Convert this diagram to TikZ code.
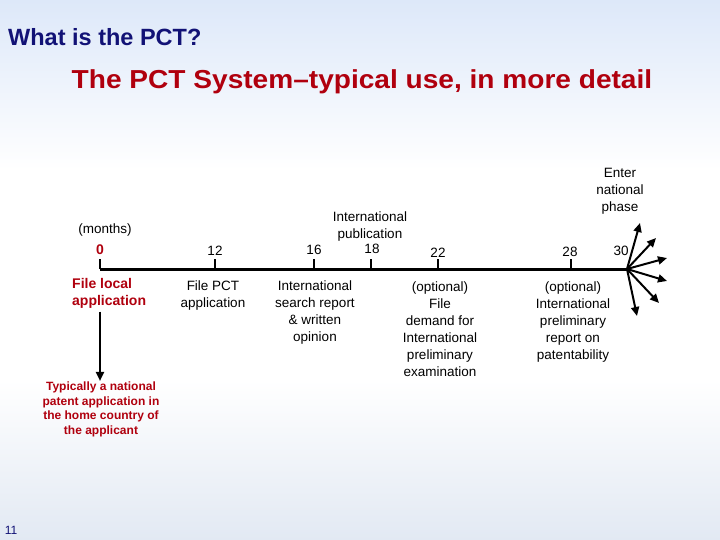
\documentclass[tikz,border=0pt]{standalone}
\usepackage{fontspec}
\setmainfont{Liberation Sans}
\usetikzlibrary{arrows.meta}
\definecolor{navytitle}{RGB}{18,18,118}
\definecolor{darkred}{RGB}{176,0,14}
\definecolor{skyblue}{RGB}{221,232,249}
\definecolor{mistblue}{RGB}{226,233,243}

\begin{document}
\begin{tikzpicture}[x=1pt, y=-1pt,
    lbl/.style={align=center, inner sep=0pt,
                font=\fontsize{13.5}{17}\selectfont},
    num/.style={inner sep=0pt, font=\fontsize{13.5}{17}\selectfont},
    redlbl/.style={inner sep=0pt, text=darkred,
                   font=\fontsize{14}{17}\selectfont\bfseries},
    ticker/.style={line width=2pt},
    axis/.style={line width=3pt},
    arw/.style={-{Triangle[length=9pt, width=8pt]}, line width=2pt},
]
% --- Background ---
\useasboundingbox (0,0) rectangle (720,540);
\fill[top color=skyblue, bottom color=white] (0,0) rectangle (720,170);
\fill[white] (0,170) rectangle (720,380);
\fill[top color=white, bottom color=mistblue] (0,380) rectangle (720,540);

% --- Titles ---
\node[anchor=base west, inner sep=0pt, text=navytitle,
      font=\fontsize{23.5}{28}\selectfont\bfseries] (question) at (8,46)
    {What is the PCT?};
\node[anchor=base, inner sep=0pt, text=darkred,
      font=\fontsize{26}{30}\selectfont\bfseries] (headline) at (362,89)
    {\scalebox{1.08}[1]{The PCT System--typical use, in more detail}};

% --- Time axis ---
\coordinate (t0) at (100,269);
\coordinate (t12) at (215,269);
\coordinate (t16) at (314,269);
\coordinate (t18) at (371,269);
\coordinate (t22) at (438,269);
\coordinate (t28) at (571,269);
\coordinate (t30) at (627,269);
\draw[axis] (t0) -- (t30);
\foreach \m in {0,12,16,18,22,28}
    \draw[ticker] (t\m) -- ++(0,-10);

% --- Month numbers ---
\node[lbl] (months) at (105,230) {(months)};
\node[redlbl] (m0) at (100,250) {0};
\node[num] (m12) at (215,251) {12};
\node[num] (m16) at (314,250) {16};
\node[num] (m18) at (372,249) {18};
\node[num] (m22) at (438,253) {22};
\node[num] (m28) at (570,252) {28};
\node[num] (m30) at (621,251) {30};

% --- Events above the axis ---
\node[lbl] (publication) at (370,227) {International\\publication};
\node[lbl] (enter) at (620,191) {Enter\\national\\phase};

% --- Events below the axis ---
\node[redlbl, align=left, anchor=west] (local) at (72,293.5)
    {File local\\application};
\node[lbl] (pctfile) at (213,295.5) {File PCT\\application};
\node[lbl] (search) at (315,312.5)
    {International\\search report\\\& written\\opinion};
\node[lbl] (demand) at (440,329.5)
    {(optional)\\File\\demand for\\International\\preliminary\\examination};
\node[lbl] (iprp) at (573,322)
    {(optional)\\International\\preliminary\\report on\\patentability};

% --- Home country note ---
\node[inner sep=0pt, align=center, text=darkred,
      font=\fontsize{12}{14.5}\selectfont\bfseries] (home) at (101,409.5)
    {Typically a national\\patent application in\\the home country of\\the applicant};
\draw[arw, shorten <=3pt, shorten >=1pt] (local.south -| t0) -- (home.north -| t0);

% --- National phase fan ---
\foreach \ex/\ey [count=\i] in {640/223, 656/238, 667/258, 667/281, 659/303, 637/316}
    \coordinate (np\i) at (\ex,\ey);
\foreach \i in {1,...,6}
    \draw[arw] (t30) -- (np\i);

% --- Slide number ---
\node[inner sep=0pt, text=navytitle, font=\fontsize{12}{14}\selectfont]
    (slide) at (11,530) {11};
\end{tikzpicture}
\end{document}
